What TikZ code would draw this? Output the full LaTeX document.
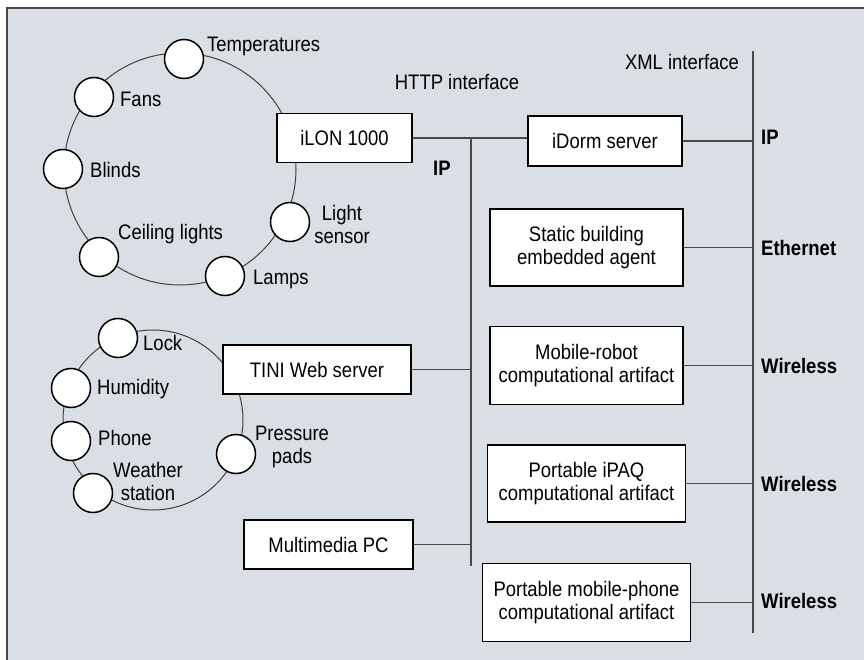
\documentclass[tikz,border=0pt]{standalone}
\usepackage{fontspec}
\setmainfont{Liberation Sans}[FakeStretch=0.88]
\usetikzlibrary{positioning, calc}
\definecolor{panel}{RGB}{217,223,229}
\definecolor{wire}{RGB}{72,72,72}
\tikzset{
  box/.style={
    draw,
    line width=1.5pt,
    rectangle,
    fill=white,
    align=center,
    minimum height=49pt,
    inner sep=2pt
  },
  dev/.style={
    draw,
    line width=1.5pt,
    circle,
    fill=white,
    minimum size=39pt,
    inner sep=0pt
  },
  lbl/.style={anchor=west, inner sep=0pt},
  tag/.style={anchor=west, inner sep=0pt, font=\fontsize{21}{23}\selectfont\bfseries},
  link/.style={draw=wire, line width=1.6pt},
  ring/.style={draw=black!75, line width=1pt}
}

\begin{document}
\begin{tikzpicture}[x=1pt, y=-1pt, font=\fontsize{21}{23}\selectfont]
        \useasboundingbox (0,0) rectangle (864,660);
        \fill[panel] (7,8) rectangle (864,660);
        \draw[wire, line width=2pt] (864,8) -- (7,8) -- (7,660);

        % lighting / climate ring
        \draw[ring] (180,169) circle[radius=116pt];
        \node[box, minimum width=135pt] (ilon) at (344.5,138) {iLON 1000};
        \node[dev] (temp) at (184,59) {};
        \node[dev] (fans) at (94,97) {};
        \node[dev] (blinds) at (63,169) {};
        \node[dev] (ceil) at (99,257) {};
        \node[dev] (lamps) at (225,276) {};
        \node[dev] (lsens) at (290,222) {};
        \node[lbl] (tempL) at (207,46) {Temperatures};
        \node[lbl] (fansL) at (120,99) {Fans};
        \node[lbl] (blindsL) at (90,170) {Blinds};
        \node[lbl] (ceilL) at (118,234) {Ceiling lights};
        \node[lbl] (lampsL) at (253,279) {Lamps};
        \node[inner sep=0pt, align=center] (lsensL) at (342,224) {Light\\sensor};

        % security / environment ring
        \draw[ring] (153,420) circle[radius=90pt];
        \node[box, minimum width=188pt] (tini) at (317,369.5) {TINI Web server};
        \node[dev] (lock) at (118,338) {};
        \node[dev] (humid) at (71,388) {};
        \node[dev] (phone) at (71,441) {};
        \node[dev] (weather) at (93,493) {};
        \node[dev] (press) at (236,454) {};
        \node[lbl] (lockL) at (143,343) {Lock};
        \node[lbl] (humidL) at (97,389) {Humidity};
        \node[lbl] (phoneL) at (98,438) {Phone};
        \node[inner sep=0pt, align=center] (weatherL) at (148,481) {Weather\\station};
        \node[inner sep=0pt, align=center] (pressL) at (292,447) {Pressure\\pads};

        \node[box, minimum width=169pt] (media) at (328.5,544.5) {Multimedia PC};

        % interfaces
        \node[inner sep=0pt] (http) at (457,82) {HTTP interface};
        \node[inner sep=0pt] (xml) at (682,62) {XML interface};
        \coordinate (ipTop) at (471,138);
        \coordinate (ipBot) at (471,566);
        \coordinate (xmlTop) at (753,51);
        \coordinate (xmlBot) at (753,633);
        \draw[link] (ipTop) -- (ipBot);
        \draw[link] (xmlTop) -- (xmlBot);
        \node[tag] (ipL) at (433,168) {IP};

        \node[box, minimum width=154pt, minimum height=50pt] (idorm) at (605,141) {iDorm server};
        \node[box, minimum width=193pt, minimum height=77pt] (static) at (586.5,247.5) {Static building\\embedded agent};
        \node[box, minimum width=193pt, minimum height=78pt, below=39pt of static] (robot) {Mobile-robot\\computational artifact};
        \node[box, minimum width=198pt, minimum height=77pt, below=39pt of robot] (ipaq) {Portable iPAQ\\computational artifact};
        \node[box, minimum width=208pt, minimum height=78pt, below=40pt of ipaq] (mobile) {Portable mobile-phone\\computational artifact};

        \draw[link] (ilon.east) -- (ilon.east -| idorm.west);
        \draw[link] (tini.east) -- (tini.east -| ipTop);
        \draw[link] (media.east) -- (media.east -| ipTop);
        \draw[link] (idorm.east) -- (idorm.east -| xmlTop);
        \draw[link] (static.east) -- (static.east -| xmlTop);
        \draw[link] (robot.east) -- (robot.east -| xmlTop);
        \draw[link] (ipaq.east) -- (ipaq.east -| xmlTop);
        \draw[link] (mobile.east) -- (mobile.east -| xmlTop);

        \node[tag] (idormL) at ($(idorm.east -| xmlTop)+(8,-4)$) {IP};
        \node[tag] (staticL) at ($(static.east -| xmlTop)+(8,0)$) {Ethernet};
        \node[tag] (robotL) at ($(robot.east -| xmlTop)+(8,0)$) {Wireless};
        \node[tag] (ipaqL) at ($(ipaq.east -| xmlTop)+(8,0)$) {Wireless};
        \node[tag] (mobileL) at ($(mobile.east -| xmlTop)+(8,-2)$) {Wireless};
      \end{tikzpicture}
\end{document}
